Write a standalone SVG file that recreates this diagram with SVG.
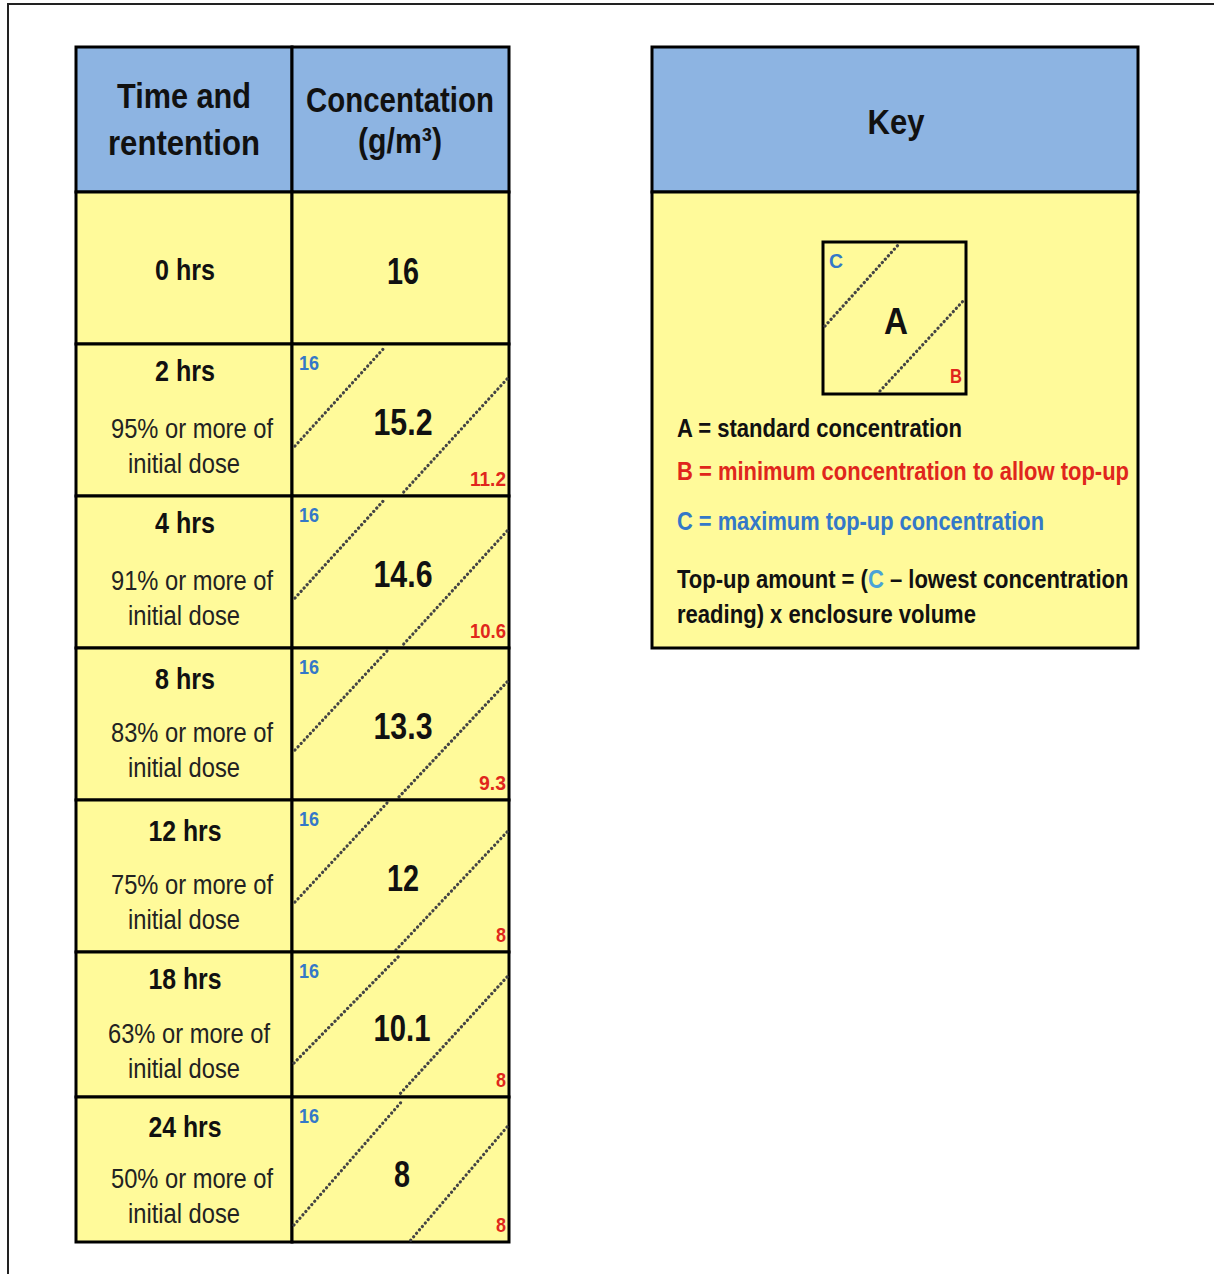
<svg xmlns="http://www.w3.org/2000/svg" width="1214" height="1274" viewBox="0 0 1214 1274">
<style>
text{font-family:"Liberation Sans",Arial,sans-serif;fill:#111;}
.hd{font-size:35px;font-weight:bold;text-anchor:middle;}
.tm{font-size:30px;font-weight:bold;text-anchor:middle;}
.pc{font-size:27px;text-anchor:middle;fill:#222;}
.val{font-size:37px;font-weight:bold;text-anchor:middle;}
.bl{font-size:21px;font-weight:bold;fill:#3478C8;}
.rd{font-size:21px;font-weight:bold;fill:#E0261C;text-anchor:end;}
.kt{font-size:26px;font-weight:bold;}
.cellh{fill:#8DB4E2;stroke:#000;stroke-width:3;}
.celly{fill:#FFFA9A;stroke:#000;stroke-width:3;}
.dot{stroke:#444;stroke-width:3.2;stroke-dasharray:0.1 4.4;stroke-linecap:round;fill:none;}
</style>
<rect x="0" y="0" width="1214" height="1274" fill="#fff"/>
<path d="M8 1274 V4 H1214" fill="none" stroke="#222" stroke-width="2"/>

<g id="table">
<g id="header">
<rect class="cellh" x="76" y="47" width="216" height="145"/>
<rect class="cellh" x="292" y="47" width="217" height="145"/>
<text class="hd" x="184" y="108" textLength="134" lengthAdjust="spacingAndGlyphs">Time and</text>
<text class="hd" x="184" y="155" textLength="152" lengthAdjust="spacingAndGlyphs">rentention</text>
<text class="hd" x="400" y="112" textLength="188" lengthAdjust="spacingAndGlyphs">Concentation</text>
<text class="hd" x="400" y="153" textLength="84" lengthAdjust="spacingAndGlyphs">(g/m³)</text>
</g>

<g id="row0">
<rect class="celly" x="76" y="192" width="216" height="152"/>
<rect class="celly" x="292" y="192" width="217" height="152"/>
<text class="tm" x="185" y="280" textLength="60" lengthAdjust="spacingAndGlyphs">0 hrs</text>
<text class="val" x="403" y="284" textLength="32" lengthAdjust="spacingAndGlyphs">16</text>
</g>

<g id="row2">
<rect class="celly" x="76" y="344" width="216" height="152"/>
<rect class="celly" x="292" y="344" width="217" height="152"/>
<text class="tm" x="185" y="381" textLength="60" lengthAdjust="spacingAndGlyphs">2 hrs</text>
<text class="pc" x="192" y="438" textLength="162" lengthAdjust="spacingAndGlyphs">95% or more of</text>
<text class="pc" x="184" y="473" textLength="112" lengthAdjust="spacingAndGlyphs">initial dose</text>
<line class="dot" x1="295" y1="446" x2="385" y2="347"/>
<line class="dot" x1="507" y1="379" x2="401" y2="495"/>
<text class="val" x="403" y="435" textLength="59" lengthAdjust="spacingAndGlyphs">15.2</text>
<text class="bl" x="299" y="370" textLength="20" lengthAdjust="spacingAndGlyphs">16</text>
<text class="rd" x="506" y="486" textLength="36" lengthAdjust="spacingAndGlyphs">11.2</text>
</g>

<g id="row4">
<rect class="celly" x="76" y="496" width="216" height="152"/>
<rect class="celly" x="292" y="496" width="217" height="152"/>
<text class="tm" x="185" y="533" textLength="60" lengthAdjust="spacingAndGlyphs">4 hrs</text>
<text class="pc" x="192" y="590" textLength="162" lengthAdjust="spacingAndGlyphs">91% or more of</text>
<text class="pc" x="184" y="625" textLength="112" lengthAdjust="spacingAndGlyphs">initial dose</text>
<line class="dot" x1="295" y1="598" x2="385" y2="499"/>
<line class="dot" x1="507" y1="531" x2="401" y2="647"/>
<text class="val" x="403" y="587" textLength="59" lengthAdjust="spacingAndGlyphs">14.6</text>
<text class="bl" x="299" y="522" textLength="20" lengthAdjust="spacingAndGlyphs">16</text>
<text class="rd" x="506" y="638" textLength="36" lengthAdjust="spacingAndGlyphs">10.6</text>
</g>

<g id="row8">
<rect class="celly" x="76" y="648" width="216" height="152"/>
<rect class="celly" x="292" y="648" width="217" height="152"/>
<text class="tm" x="185" y="689" textLength="60" lengthAdjust="spacingAndGlyphs">8 hrs</text>
<text class="pc" x="192" y="742" textLength="162" lengthAdjust="spacingAndGlyphs">83% or more of</text>
<text class="pc" x="184" y="777" textLength="112" lengthAdjust="spacingAndGlyphs">initial dose</text>
<line class="dot" x1="295" y1="750" x2="387" y2="651"/>
<line class="dot" x1="507" y1="682" x2="397" y2="799"/>
<text class="val" x="403" y="739" textLength="59" lengthAdjust="spacingAndGlyphs">13.3</text>
<text class="bl" x="299" y="674" textLength="20" lengthAdjust="spacingAndGlyphs">16</text>
<text class="rd" x="506" y="790" textLength="27" lengthAdjust="spacingAndGlyphs">9.3</text>
</g>

<g id="row12">
<rect class="celly" x="76" y="800" width="216" height="152"/>
<rect class="celly" x="292" y="800" width="217" height="152"/>
<text class="tm" x="185" y="841" textLength="73" lengthAdjust="spacingAndGlyphs">12 hrs</text>
<text class="pc" x="192" y="894" textLength="162" lengthAdjust="spacingAndGlyphs">75% or more of</text>
<text class="pc" x="184" y="929" textLength="112" lengthAdjust="spacingAndGlyphs">initial dose</text>
<line class="dot" x1="295" y1="902" x2="387" y2="803"/>
<line class="dot" x1="507" y1="832" x2="395" y2="951"/>
<text class="val" x="403" y="891" textLength="32" lengthAdjust="spacingAndGlyphs">12</text>
<text class="bl" x="299" y="826" textLength="20" lengthAdjust="spacingAndGlyphs">16</text>
<text class="rd" x="506" y="942" textLength="10" lengthAdjust="spacingAndGlyphs">8</text>
</g>

<g id="row18">
<rect class="celly" x="76" y="952" width="216" height="145"/>
<rect class="celly" x="292" y="952" width="217" height="145"/>
<text class="tm" x="185" y="989" textLength="73" lengthAdjust="spacingAndGlyphs">18 hrs</text>
<text class="pc" x="189" y="1043" textLength="162" lengthAdjust="spacingAndGlyphs">63% or more of</text>
<text class="pc" x="184" y="1078" textLength="112" lengthAdjust="spacingAndGlyphs">initial dose</text>
<line class="dot" x1="294" y1="1063" x2="400" y2="955"/>
<line class="dot" x1="507" y1="977" x2="398" y2="1096"/>
<text class="val" x="402" y="1041" textLength="57" lengthAdjust="spacingAndGlyphs">10.1</text>
<text class="bl" x="299" y="978" textLength="20" lengthAdjust="spacingAndGlyphs">16</text>
<text class="rd" x="506" y="1087" textLength="10" lengthAdjust="spacingAndGlyphs">8</text>
</g>

<g id="row24">
<rect class="celly" x="76" y="1097" width="216" height="145"/>
<rect class="celly" x="292" y="1097" width="217" height="145"/>
<text class="tm" x="185" y="1137" textLength="73" lengthAdjust="spacingAndGlyphs">24 hrs</text>
<text class="pc" x="192" y="1188" textLength="162" lengthAdjust="spacingAndGlyphs">50% or more of</text>
<text class="pc" x="184" y="1223" textLength="112" lengthAdjust="spacingAndGlyphs">initial dose</text>
<line class="dot" x1="294" y1="1225" x2="403" y2="1100"/>
<line class="dot" x1="507" y1="1127" x2="410" y2="1241"/>
<text class="val" x="402" y="1187" textLength="16" lengthAdjust="spacingAndGlyphs">8</text>
<text class="bl" x="299" y="1123" textLength="20" lengthAdjust="spacingAndGlyphs">16</text>
<text class="rd" x="506" y="1232" textLength="10" lengthAdjust="spacingAndGlyphs">8</text>
</g>
</g>

<g id="key">
<rect class="cellh" x="652" y="47" width="486" height="145"/>
<rect class="celly" x="652" y="192" width="486" height="456"/>
<text class="hd" x="896" y="134" textLength="57" lengthAdjust="spacingAndGlyphs">Key</text>
<g id="key-square">
<rect x="823" y="242" width="143" height="152" fill="none" stroke="#000" stroke-width="3"/>
<line class="dot" x1="825" y1="326" x2="899" y2="244"/>
<line class="dot" x1="880" y1="391" x2="964" y2="300"/>
<text class="val" x="896" y="334" textLength="24" lengthAdjust="spacingAndGlyphs">A</text>
<text class="bl" x="829" y="268" textLength="14" lengthAdjust="spacingAndGlyphs">C</text>
<text class="rd" x="962" y="383" textLength="12" lengthAdjust="spacingAndGlyphs">B</text>
</g>
<text class="kt" x="677" y="437" textLength="285" lengthAdjust="spacingAndGlyphs">A = standard concentration</text>
<text class="kt" x="677" y="480" style="fill:#E0261C" textLength="452" lengthAdjust="spacingAndGlyphs">B = minimum concentration to allow top-up</text>
<text class="kt" x="677" y="530" style="fill:#3478C8" textLength="367" lengthAdjust="spacingAndGlyphs">C = maximum top-up concentration</text>
<text class="kt" transform="translate(677,588) scale(0.847,1)" x="0" y="0">Top-up amount = (<tspan style="fill:#4AA3D8">C</tspan> – lowest concentration</text>
<text class="kt" x="677" y="623" textLength="299" lengthAdjust="spacingAndGlyphs">reading) x enclosure volume</text>
</g>
</svg>
